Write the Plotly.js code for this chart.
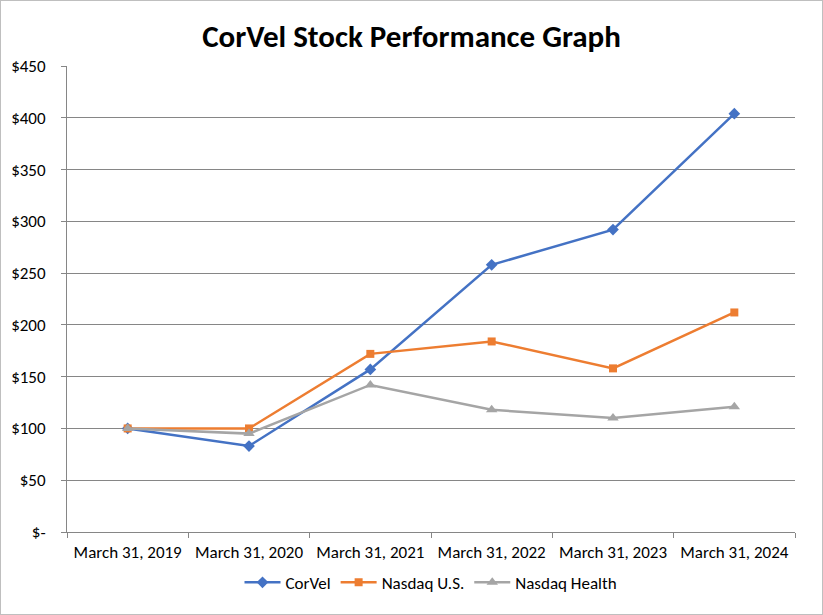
<!DOCTYPE html>
<html>
<head>
<meta charset="utf-8">
<script src="https://cdn.plot.ly/plotly-3.0.1.min.js"></script>
<style>
html,body{margin:0;padding:0;background:#fff;}
#frame{position:absolute;left:0;top:0;width:821px;height:613px;border:1px solid #bfbfbf;}
#chart{position:absolute;left:0;top:0;width:823px;height:615px;}
</style>
</head>
<body>
<div id="frame"></div>
<div id="chart"></div>
<script>
const categories = ["March 31, 2019","March 31, 2020","March 31, 2021","March 31, 2022","March 31, 2023","March 31, 2024"];
const corvel = [100, 83, 157, 258, 292, 404];
const nasdaqUS = [100, 100, 172, 184, 158, 212];
const nasdaqHealth = [100, 95, 142, 118, 110, 121];
const yTickVals = [0,50,100,150,200,250,300,350,400,450];
const yTickText = ["$-","$50","$100","$150","$200","$250","$300","$350","$400","$450"];

const font = "Calibri, Carlito, 'Open Sans', 'Liberation Sans', sans-serif";
const traces = [
  {x: categories, y: corvel, name: "CorVel", type: "scatter", mode: "lines+markers",
   line: {color: "#4472C4", width: 2.5}, marker: {symbol: "diamond", size: 9, color: "#4472C4"}},
  {x: categories, y: nasdaqUS, name: "Nasdaq U.S.", type: "scatter", mode: "lines+markers",
   line: {color: "#ED7D31", width: 2.5}, marker: {symbol: "square", size: 8, color: "#ED7D31"}},
  {x: categories, y: nasdaqHealth, name: "Nasdaq Health", type: "scatter", mode: "lines+markers",
   line: {color: "#A5A5A5", width: 2.5}, marker: {symbol: "triangle-up", size: 10, color: "#A5A5A5"}}
];
const layout = {
  width: 823, height: 615,
  paper_bgcolor: "rgba(0,0,0,0)", plot_bgcolor: "#fff",
  margin: {l: 67, r: 28, t: 66, b: 83},
  title: {text: "<b>CorVel Stock Performance Graph</b>", x: 0.5, xanchor: "center", y: 0.942, yanchor: "middle",
          font: {family: font, size: 31, color: "#000"}},
  xaxis: {type: "category", range: [-0.5, 5.5], tickson: "boundaries", ticks: "outside", ticklen: 5, tickcolor: "#868686",
          showline: true, linecolor: "#868686", linewidth: 1, showgrid: false, zeroline: false, ticklabelstandoff: 5,
          tickfont: {family: font, size: 17, color: "#000"}, fixedrange: true},
  yaxis: {range: [0, 450], tickvals: yTickVals, ticktext: yTickText, ticks: "outside", ticklen: 5,
          tickcolor: "#868686", showline: true, linecolor: "#868686", linewidth: 1, ticklabelstandoff: 12,
          showgrid: true, gridcolor: "#868686", gridwidth: 1, zeroline: false,
          tickfont: {family: font, size: 17, color: "#000"}, fixedrange: true},
  legend: {orientation: "h", x: 0.5, xanchor: "center", y: -0.109, yanchor: "middle",
           font: {family: font, size: 17, color: "#000"}, itemwidth: 36},
  showlegend: true
};
Plotly.newPlot("chart", traces, layout, {displayModeBar: false, staticPlot: true});
</script>
</body>
</html>
